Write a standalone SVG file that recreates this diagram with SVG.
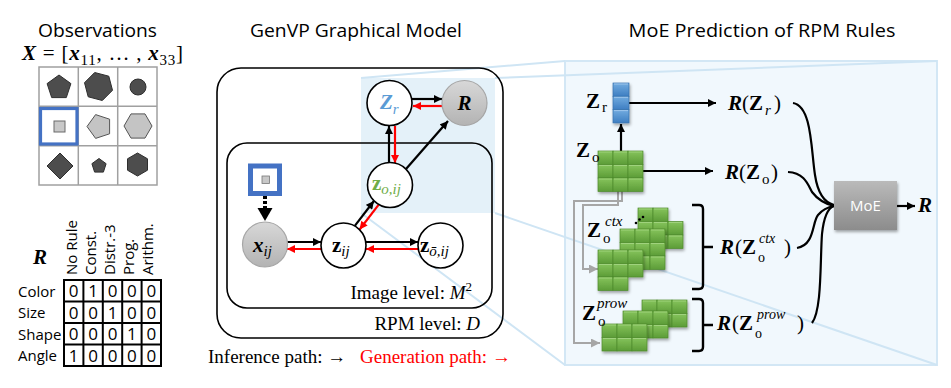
<svg xmlns="http://www.w3.org/2000/svg" width="951" height="388" viewBox="0 0 951 388">
  <defs>
    <style>
      .title { font-family: "Open Sans", "Liberation Sans", sans-serif; font-size: 18px; fill: #000; }
      .lab { font-family: "Open Sans", "Liberation Sans", sans-serif; font-size: 15px; fill: #000; }
      .num { font-family: "Open Sans", "Liberation Sans", sans-serif; font-size: 17px; fill: #000; text-anchor: middle; }
      .m { font-family: "Liberation Serif", "DejaVu Serif", serif; font-size: 21px; fill: #000; }
      .ms { font-family: "Liberation Serif", "DejaVu Serif", serif; font-size: 15px; fill: #000; }
      .sc { font-family: "Liberation Serif", "DejaVu Serif", serif; font-size: 14px; fill: #000; }
      .cap { font-family: "Liberation Serif", "DejaVu Serif", serif; font-size: 19px; fill: #000; }
      .capr { font-family: "Liberation Serif", "DejaVu Serif", serif; font-size: 19px; fill: #ff0000; }
      .bi { font-weight: bold; font-style: italic; }
      .b { font-weight: bold; }
      .i { font-style: italic; }
      .node { fill: #fff; stroke: #000; stroke-width: 1.6; }
      .gnode { fill: url(#gGray); stroke: #a6a6a6; stroke-width: 1.2; }
      .box { fill: none; stroke: #000; stroke-width: 1.6; }
      .blk { stroke: #000; stroke-width: 2.2; fill: none; marker-end: url(#aBlack); }
      .red { stroke: #ff0000; stroke-width: 2.2; fill: none; marker-end: url(#aRed); }
      .curve { stroke: #000; stroke-width: 2.2; fill: none; }
      .gline { stroke: #a6a6a6; stroke-width: 2; fill: none; marker-end: url(#aGray); }
      .proj { stroke: #cfe5f4; stroke-width: 2; fill: none; }
      .grid { stroke: #a0a0a0; stroke-width: 1.5; fill: none; }
      .dark { fill: #4d4d4d; stroke: #2e2e2e; stroke-width: 1; }
      .light { fill: #c4c4c4; stroke: #555; stroke-width: 1; }
      .tab { stroke: #000; stroke-width: 2; fill: none; }
      .brace { stroke: #000; stroke-width: 2.4; fill: none; }
    </style>
    <linearGradient id="gGray" x1="0" y1="0" x2="0" y2="1">
      <stop offset="0" stop-color="#d8d8d8"/>
      <stop offset="1" stop-color="#b3b3b3"/>
    </linearGradient>
    <linearGradient id="gGreen" x1="0" y1="0" x2="0" y2="1">
      <stop offset="0" stop-color="#86c45c"/>
      <stop offset="1" stop-color="#5c9c37"/>
    </linearGradient>
    <linearGradient id="gBlue" x1="0" y1="0" x2="0" y2="1">
      <stop offset="0" stop-color="#72ace0"/>
      <stop offset="1" stop-color="#3e7ec2"/>
    </linearGradient>
    <linearGradient id="gMoE" x1="0" y1="0" x2="0" y2="1">
      <stop offset="0" stop-color="#bababa"/>
      <stop offset="1" stop-color="#8c8c8c"/>
    </linearGradient>
    <filter id="shadow" x="-20%" y="-20%" width="150%" height="150%">
      <feDropShadow dx="1" dy="2" stdDeviation="1.5" flood-color="#000" flood-opacity="0.35"/>
    </filter>
    <marker id="aBlack" viewBox="0 0 10 10" refX="10" refY="5" markerWidth="9" markerHeight="8" markerUnits="userSpaceOnUse" orient="auto">
      <path d="M0,0 L10,5 L0,10 z" fill="#000"/>
    </marker>
    <marker id="aRed" viewBox="0 0 10 10" refX="10" refY="5" markerWidth="9" markerHeight="8" markerUnits="userSpaceOnUse" orient="auto">
      <path d="M0,0 L10,5 L0,10 z" fill="#ff0000"/>
    </marker>
    <marker id="aGray" viewBox="0 0 10 10" refX="10" refY="5" markerWidth="10" markerHeight="9" markerUnits="userSpaceOnUse" orient="auto">
      <path d="M0,0 L10,5 L0,10 z" fill="#a6a6a6"/>
    </marker>
    <!-- one latent cell of a feature grid -->
    <g id="cell">
      <rect x="0" y="0" width="15" height="13.5" fill="url(#gGreen)" stroke="#4d8a2c" stroke-width="0.7"/>
      <line x1="1" y1="1" x2="14" y2="1" stroke="#a6d786" stroke-width="0.8"/>
    </g>
    <g id="bcell">
      <rect x="0" y="0" width="16" height="13.3" fill="url(#gBlue)" stroke="#3570ad" stroke-width="0.7"/>
      <line x1="1" y1="1" x2="15" y2="1" stroke="#a9cdef" stroke-width="0.8"/>
    </g>
    <g id="grid33">
      <use href="#cell" x="0" y="0"/><use href="#cell" x="15" y="0"/><use href="#cell" x="30" y="0"/>
      <use href="#cell" x="0" y="13.5"/><use href="#cell" x="15" y="13.5"/><use href="#cell" x="30" y="13.5"/>
      <use href="#cell" x="0" y="27"/><use href="#cell" x="15" y="27"/><use href="#cell" x="30" y="27"/>
    </g>
    <g id="grid32">
      <use href="#cell" x="0" y="0"/><use href="#cell" x="15" y="0"/><use href="#cell" x="30" y="0"/>
      <use href="#cell" x="0" y="13.5"/><use href="#cell" x="15" y="13.5"/><use href="#cell" x="30" y="13.5"/>
    </g>
  </defs>

  <rect width="951" height="388" fill="#fff"/>

  <!-- ===== Titles ===== -->
  <text class="title" x="97.5" y="37" text-anchor="middle" textLength="119" lengthAdjust="spacingAndGlyphs">Observations</text>
  <text class="title" x="356" y="37" text-anchor="middle" textLength="212" lengthAdjust="spacingAndGlyphs">GenVP Graphical Model</text>
  <text class="title" x="762" y="37" text-anchor="middle" textLength="267" lengthAdjust="spacingAndGlyphs">MoE Prediction of RPM Rules</text>

  <!-- ===== Observations panel ===== -->
  <g id="obs-formula">
    <text class="m" x="22" y="60" font-size="22" textLength="161" lengthAdjust="spacing"><tspan class="bi">X</tspan> = [<tspan class="bi">x</tspan><tspan font-size="15" dy="5">11</tspan><tspan dy="-5">, … , </tspan><tspan class="bi">x</tspan><tspan font-size="15" dy="5">33</tspan><tspan dy="-5">]</tspan></text>
  </g>
  <g id="obs-grid">
    <rect class="grid" x="39" y="67" width="118" height="118" fill="#fff"/>
    <line class="grid" x1="78.3" y1="67" x2="78.3" y2="185"/>
    <line class="grid" x1="117.7" y1="67" x2="117.7" y2="185"/>
    <line class="grid" x1="39" y1="106.3" x2="157" y2="106.3"/>
    <line class="grid" x1="39" y1="145.7" x2="157" y2="145.7"/>
    <!-- row 1 -->
    <polygon class="dark" points="59,75 70.9,83.6 66.3,97.6 51.7,97.6 47.1,83.6"/>
    <polygon class="dark" points="112.5,90.3 102.3,100.5 88.2,96.8 84.5,82.7 94.7,72.5 108.8,76.2"/>
    <circle class="dark" cx="138" cy="87" r="8"/>
    <!-- row 2 -->
    <rect x="54" y="121" width="11" height="11" fill="#c8c8c8" stroke="#6a6a6a" stroke-width="1"/>
    <polygon class="light" points="87,126.5 95.6,114.6 109.6,119.2 109.6,133.8 95.6,138.4"/>
    <polygon class="light" points="152,126 145,138.1 131,138.1 124,126 131,113.9 145,113.9"/>
    <!-- row 3 -->
    <polygon class="dark" points="60,153 73,166 60,179 47,166"/>
    <polygon class="dark" points="99,158.5 106.1,163.7 103.4,172.1 94.6,172.1 91.9,163.7"/>
    <polygon class="dark" points="147.5,170.2 137.5,176 127.5,170.2 127.5,158.8 137.5,153 147.5,158.8"/>
    <!-- selected panel -->
    <rect x="40.5" y="108.5" width="36.5" height="35.5" fill="none" stroke="#4472c4" stroke-width="3.2"/>
  </g>

  <!-- ===== Rule matrix ===== -->
  <g id="rule-table">
    <text class="m bi" x="33" y="264" font-size="20">R</text>
    <g class="lab">
      <text transform="translate(77,275) rotate(-90)">No Rule</text>
      <text transform="translate(96,275) rotate(-90)">Const.</text>
      <text transform="translate(115,275) rotate(-90)">Distr.-3</text>
      <text transform="translate(134,275) rotate(-90)">Prog.</text>
      <text transform="translate(153,275) rotate(-90)">Arithm.</text>
    </g>
    <g class="lab">
      <text x="18" y="297">Color</text>
      <text x="18" y="318">Size</text>
      <text x="18" y="340">Shape</text>
      <text x="18" y="361">Angle</text>
    </g>
    <rect class="tab" x="64" y="280" width="97" height="86"/>
    <line class="tab" x1="83.4" y1="280" x2="83.4" y2="366"/>
    <line class="tab" x1="102.8" y1="280" x2="102.8" y2="366"/>
    <line class="tab" x1="122.2" y1="280" x2="122.2" y2="366"/>
    <line class="tab" x1="141.6" y1="280" x2="141.6" y2="366"/>
    <line class="tab" x1="64" y1="301.5" x2="161" y2="301.5"/>
    <line class="tab" x1="64" y1="323" x2="161" y2="323"/>
    <line class="tab" x1="64" y1="344.5" x2="161" y2="344.5"/>
    <g class="num">
      <text x="73.7" y="297">0</text><text x="93.1" y="297">1</text><text x="112.5" y="297">0</text><text x="131.9" y="297">0</text><text x="151.3" y="297">0</text>
      <text x="73.7" y="318.5">0</text><text x="93.1" y="318.5">0</text><text x="112.5" y="318.5">1</text><text x="131.9" y="318.5">0</text><text x="151.3" y="318.5">0</text>
      <text x="73.7" y="340">0</text><text x="93.1" y="340">0</text><text x="112.5" y="340">0</text><text x="131.9" y="340">1</text><text x="151.3" y="340">0</text>
      <text x="73.7" y="361.5">1</text><text x="93.1" y="361.5">0</text><text x="112.5" y="361.5">0</text><text x="131.9" y="361.5">0</text><text x="151.3" y="361.5">0</text>
    </g>
  </g>

  <!-- ===== Zoom-out frame (right panel background + projection edges) ===== -->
  <g id="zoom-frame">
    <rect x="565" y="61" width="372" height="304" fill="#f1f8fd" stroke="#d3e7f5" stroke-width="2"/>
    <rect x="361" y="78" width="134" height="135" fill="#e4f1f9"/>
    <line class="proj" x1="361" y1="78" x2="565" y2="61"/>
    <line class="proj" x1="495" y1="78" x2="937" y2="61"/>
    <line class="proj" x1="361" y1="213" x2="565" y2="365"/>
    <line class="proj" x1="495" y1="213" x2="937" y2="365"/>
  </g>

  <!-- ===== Graphical model plates ===== -->
  <g id="plate-rpm">
    <rect class="box" x="217" y="68" width="286" height="270" rx="24"/>
    <text class="cap" x="480" y="330" text-anchor="end">RPM level: <tspan class="i">D</tspan></text>
  </g>
  <g id="plate-image">
    <rect class="box" x="227" y="143" width="265" height="165" rx="20"/>
    <text class="cap" x="472" y="299" text-anchor="end">Image level: <tspan class="i">M</tspan><tspan font-size="13" dy="-8">2</tspan></text>
  </g>

  <!-- ===== Connectors ===== -->
  <g id="connectors">
    <!-- graphical model -->
    <line class="blk" x1="412" y1="99" x2="442" y2="99"/>
    <line class="red" x1="442" y1="106" x2="413" y2="106"/>
    <line class="blk" x1="389" y1="163" x2="389" y2="126"/>
    <line class="red" x1="395" y1="126" x2="395" y2="163"/>
    <line class="blk" x1="406" y1="169" x2="448" y2="121"/>
    <line class="blk" x1="354.8" y1="225.9" x2="373.9" y2="201"/>
    <line class="red" x1="378.7" y1="204.6" x2="359.6" y2="229.5"/>
    <line class="blk" x1="287" y1="242" x2="321" y2="242"/>
    <line class="red" x1="321" y1="249" x2="287" y2="249"/>
    <line class="blk" x1="366" y1="242" x2="418" y2="242"/>
    <line class="red" x1="418" y1="249" x2="366" y2="249"/>
    <!-- observation to x_ij -->
    <line x1="265" y1="196" x2="265" y2="209" stroke="#000" stroke-width="4" stroke-dasharray="3,2"/>
    <polygon points="257.5,208 272.5,208 265,221" fill="#000"/>
    <!-- MoE panel -->
    <line class="blk" x1="629" y1="103" x2="716" y2="103"/>
    <line class="blk" x1="621" y1="151" x2="621" y2="124"/>
    <line class="blk" x1="643" y1="171" x2="713" y2="171"/>
    <path class="gline" d="M622,191 V201 H574 V343 H600"/>
    <path class="gline" d="M618,191 V205 H583 V269 H598"/>
    <path class="curve" d="M793,103 C812,106 811,150 815,175 C818,195 826,203 834,205"/>
    <path class="curve" d="M788,172 C805,173 808,185 812,192 C818,200 826,204 834,206"/>
    <path class="curve" d="M797,248 C815,245 812,222 818,215 C823,209 828,207 834,206"/>
    <path class="curve" d="M812,323 C822,310 820,262 822,234 C824,215 828,208 834,206"/>
    <line class="blk" x1="897" y1="206" x2="915" y2="206"/>
    <path class="brace" d="M692,205 H699 Q703,205 703,209 V285 Q703,289 699,289 H692 M703,247 H713"/>
    <path class="brace" d="M692,299 H699 Q703,299 703,303 V347 Q703,351 699,351 H692 M703,325 H713"/>
  </g>

  <!-- ===== Graphical model nodes ===== -->
  <g id="node-obs">
    <rect x="250.5" y="166" width="29" height="27.5" fill="#fff" stroke="#4472c4" stroke-width="5"/>
    <rect x="262" y="176" width="7.5" height="7.5" fill="#c8c8c8" stroke="#777" stroke-width="0.8"/>
  </g>
  <g id="node-Zr">
    <circle class="node" cx="389.5" cy="103" r="22.5"/>
    <text class="m" x="380" y="109" font-size="22"><tspan class="bi" fill="#5b9bd5">Z</tspan><tspan class="i" fill="#5b9bd5" font-size="15" dy="5">r</tspan></text>
  </g>
  <g id="node-R">
    <circle class="gnode" cx="464.5" cy="103" r="22.5"/>
    <text class="m bi" x="464.5" y="110" text-anchor="middle" font-size="22">R</text>
  </g>
  <g id="node-zo">
    <circle class="node" cx="390" cy="185" r="22.5"/>
    <text class="m" x="372" y="190" font-size="22"><tspan class="b" fill="#70ad47">z</tspan><tspan class="i" fill="#70ad47" font-size="15" dy="4">o,ij</tspan></text>
  </g>
  <g id="node-x">
    <circle class="gnode" cx="265" cy="244.5" r="22.5"/>
    <text class="m" x="253" y="252" font-size="22"><tspan class="bi">x</tspan><tspan class="i" font-size="15" dy="4">ij</tspan></text>
  </g>
  <g id="node-z">
    <circle class="node" cx="343.5" cy="245.5" r="22.5"/>
    <text class="m" x="332" y="252" font-size="22"><tspan class="b">z</tspan><tspan class="i" font-size="15" dy="4">ij</tspan></text>
  </g>
  <g id="node-zbar">
    <circle class="node" cx="440.5" cy="245.5" r="22.5"/>
    <text class="m" x="420" y="252" font-size="22"><tspan class="b">z</tspan><tspan class="i" font-size="15" dy="4">ō,ij</tspan></text>
  </g>

  <!-- ===== Legend ===== -->
  <g id="legend">
    <text class="cap" x="208" y="363">Inference path: →</text>
    <text class="capr" x="360" y="363">Generation path: →</text>
  </g>

  <!-- ===== MoE prediction panel ===== -->
  <g id="feat-Zr">
    <g filter="url(#shadow)">
      <use href="#bcell" x="613" y="83"/>
      <use href="#bcell" x="613" y="96.3"/>
      <use href="#bcell" x="613" y="109.6"/>
    </g>
    <text class="m b" x="586" y="108">Z</text>
    <text class="ms" x="602" y="112">r</text>
  </g>
  <g id="feat-Zo">
    <use href="#grid33" x="598" y="151" filter="url(#shadow)"/>
    <text class="m b" x="576" y="157">Z</text>
    <text class="ms" x="592" y="162">o</text>
  </g>
  <g id="feat-ctx">
    <g filter="url(#shadow)">
      <use href="#cell" x="638" y="208"/><use href="#cell" x="653" y="208"/>
      <use href="#cell" x="638" y="221.5"/><use href="#cell" x="653" y="221.5"/><use href="#cell" x="668" y="221.5"/>
      <use href="#cell" x="638" y="235"/><use href="#cell" x="653" y="235"/><use href="#cell" x="668" y="235"/>
    </g>
    <use href="#grid33" x="620" y="229" filter="url(#shadow)"/>
    <g filter="url(#shadow)">
      <use href="#cell" x="598" y="250"/><use href="#cell" x="613" y="250"/><use href="#cell" x="628" y="250"/>
      <use href="#cell" x="598" y="263.5"/><use href="#cell" x="613" y="263.5"/><use href="#cell" x="628" y="263.5"/>
      <use href="#cell" x="598" y="277"/><use href="#cell" x="613" y="277"/>
    </g>
    <circle cx="636" cy="223" r="1.3" fill="#000"/>
    <circle cx="639.5" cy="219.5" r="1.3" fill="#000"/>
    <circle cx="643" cy="217" r="1.3" fill="#000"/>
    <text class="m b" x="587" y="237">Z</text>
    <text class="ms" x="603" y="243">o</text>
    <text class="ms i" x="605" y="226">ctx</text>
  </g>
  <g id="feat-prow">
    <use href="#grid32" x="642" y="300" filter="url(#shadow)"/>
    <use href="#grid32" x="623" y="311" filter="url(#shadow)"/>
    <use href="#grid32" x="602" y="324" filter="url(#shadow)"/>
    <text class="m b" x="582" y="320">Z</text>
    <text class="ms" x="598" y="326">o</text>
    <text class="ms i" x="597" y="308">prow</text>
  </g>

  <g id="rule-Zr">
    <text class="m bi" x="728" y="110">R</text>
    <text class="m" x="742" y="110">(</text>
    <text class="m b" x="749" y="110">Z</text>
    <text class="ms i" x="765" y="115">r</text>
    <text class="m" x="774" y="110">)</text>
  </g>
  <g id="rule-Zo">
    <text class="m bi" x="725" y="179">R</text>
    <text class="m" x="739" y="179">(</text>
    <text class="m b" x="746" y="179">Z</text>
    <text class="ms" x="762" y="184">o</text>
    <text class="m" x="771" y="179">)</text>
  </g>
  <g id="rule-ctx">
    <text class="m bi" x="720" y="254">R</text>
    <text class="m" x="735" y="254">(</text>
    <text class="m b" x="742" y="254">Z</text>
    <text class="sc" x="758" y="262">o</text>
    <text class="sc i" x="759" y="243">ctx</text>
    <text class="m" x="784" y="254">)</text>
  </g>
  <g id="rule-prow">
    <text class="m bi" x="717" y="330">R</text>
    <text class="m" x="732" y="330">(</text>
    <text class="m b" x="739" y="330">Z</text>
    <text class="sc" x="755" y="338">o</text>
    <text class="sc i" x="757" y="319">prow</text>
    <text class="m" x="797" y="330">)</text>
  </g>

  <g id="moe">
    <rect x="834" y="181" width="63" height="49" fill="url(#gMoE)" filter="url(#shadow)"/>
    <text x="865.5" y="211" text-anchor="middle" font-family="Open Sans, Liberation Sans, sans-serif" font-size="15" fill="#fff">MoE</text>
  </g>
  <g id="out-R">
    <text class="m bi" x="918" y="212">R</text>
  </g>
</svg>
